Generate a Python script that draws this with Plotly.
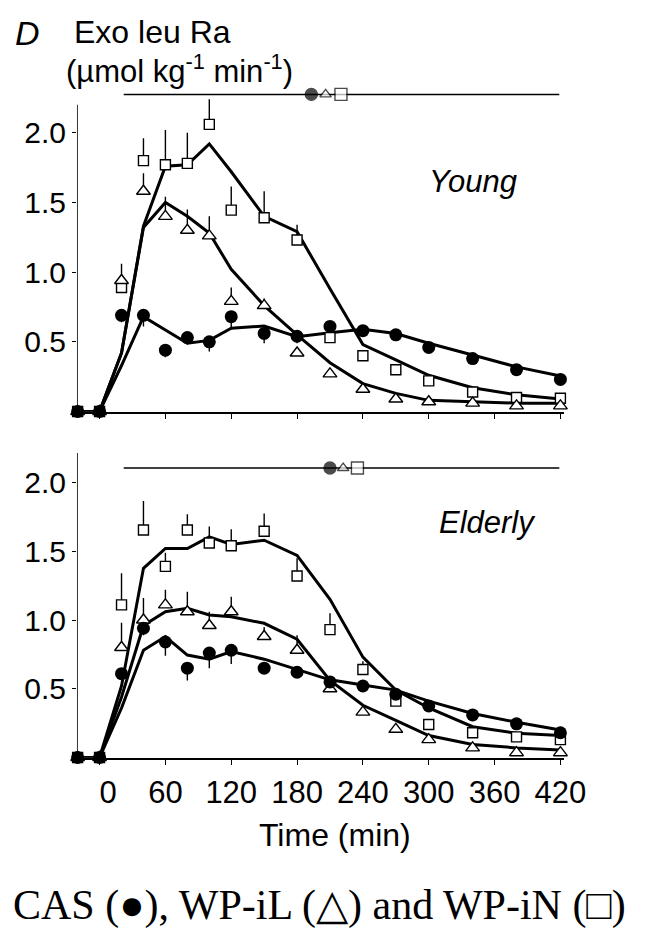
import plotly.graph_objects as go

W, H = 661, 933

# Sampling times (min)
times = [-20, 0, 20, 40, 60, 80, 100, 120, 150, 180, 210, 240, 270, 300, 340, 380, 420]
tick_times = [0, 60, 120, 180, 240, 300, 360, 420]
tick_text = ["\u00a0\u00a00", "60", "120", "180", "240", "300", "360", "420"]
y_ticks = [0.5, 1.0, 1.5, 2.0]
y_tick_text = ["0.5", "1.0", "1.5", "2.0"]

# Young: observed means
young_cas = [0, 0, 0.69, 0.69, 0.44, 0.53, 0.50, 0.68, 0.56, 0.54, 0.61, 0.58, 0.55, 0.46, 0.38, 0.30, 0.23]
young_wpil = [0, 0, 0.94, 1.58, 1.40, 1.30, 1.26, 0.79, 0.76, 0.42, 0.27, 0.16, 0.09, 0.07, 0.06, 0.04, 0.04]
young_wpin = [0, 0, 0.89, 1.80, 1.77, 1.78, 2.06, 1.445, 1.39, 1.23, 0.53, 0.40, 0.30, 0.22, 0.14, 0.10, 0.095]
# Young: SEM (CAS drawn downward, whey drawn upward)
young_cas_err = [0, 0, 0.05, 0.08, 0.05, 0.05, 0.07, 0.09, 0.07, 0.05, 0.03, 0, 0, 0, 0, 0, 0]
young_wpil_err = [0, 0, 0.12, 0.13, 0.14, 0.15, 0.14, 0.10, 0.05, 0.04, 0, 0, 0, 0, 0, 0, 0]
young_wpin_err = [0, 0, 0.05, 0.16, 0.25, 0.22, 0.18, 0.17, 0.19, 0.11, 0.03, 0, 0, 0, 0, 0, 0]
# Young: model fits
young_cas_fit = [0, 0, 0.33, 0.68, 0.585, 0.49, 0.51, 0.597, 0.613, 0.537, 0.565, 0.59, 0.56, 0.49, 0.405, 0.32, 0.255]
young_wpil_fit = [0, 0, 0.42, 1.32, 1.50, 1.40, 1.28, 1.02, 0.76, 0.55, 0.35, 0.20, 0.13, 0.08, 0.07, 0.06, 0.06]
young_wpin_fit = [0, 0, 0.42, 1.33, 1.76, 1.77, 1.92, 1.72, 1.40, 1.29, 0.88, 0.48, 0.37, 0.26, 0.17, 0.12, 0.09]

# Elderly: observed means
elder_cas = [0, 0, 0.61, 0.94, 0.84, 0.65, 0.76, 0.78, 0.65, 0.62, 0.55, 0.52, 0.46, 0.375, 0.31, 0.245, 0.18]
elder_wpil = [0, 0, 0.80, 1.00, 1.11, 1.06, 0.96, 1.06, 0.88, 0.78, 0.50, 0.33, 0.205, 0.13, 0.07, 0.035, 0.035]
elder_wpin = [0, 0, 1.11, 1.655, 1.39, 1.655, 1.56, 1.54, 1.645, 1.32, 0.93, 0.64, 0.41, 0.24, 0.18, 0.15, 0.13]
# Elderly: SEM
elder_cas_err = [0, 0, 0.05, 0.05, 0.10, 0.09, 0.11, 0.10, 0.04, 0.04, 0.03, 0, 0, 0, 0, 0, 0]
elder_wpil_err = [0, 0, 0.18, 0.16, 0.11, 0.145, 0.10, 0.11, 0.07, 0.11, 0.04, 0, 0, 0, 0, 0, 0]
elder_wpin_err = [0, 0, 0.23, 0.21, 0.10, 0.115, 0.12, 0.12, 0.13, 0.13, 0.12, 0.06, 0, 0, 0, 0, 0]
# Elderly: model fits
elder_cas_fit = [0, 0, 0.36, 0.78, 0.88, 0.745, 0.715, 0.77, 0.715, 0.64, 0.565, 0.527, 0.49, 0.41, 0.32, 0.256, 0.20]
elder_wpil_fit = [0, 0, 0.44, 0.96, 1.06, 1.085, 1.036, 1.024, 0.976, 0.86, 0.56, 0.38, 0.27, 0.16, 0.095, 0.07, 0.055]
elder_wpin_fit = [0, 0, 0.52, 1.376, 1.52, 1.52, 1.605, 1.55, 1.58, 1.47, 1.15, 0.73, 0.49, 0.36, 0.224, 0.176, 0.16]

# Horizontal bar above each panel with the time-to-peak symbols
bar_span = [22, 419]
young_bar_level = 2.275
elder_bar_level = 2.105
young_peak_times = [193, 206, 220]
elder_peak_times = [210, 222, 235]

X_RANGE = [-20.6, 423]
Y_RANGE = [0, 2.3]
FIT_W = 3
SANS = "Liberation Sans, Arial, sans-serif"

fig = go.Figure()


def add_panel(xa, ya, cas, wpil, wpin, cas_e, wpil_e, wpin_e, cas_f, wpil_f, wpin_f,
              level, peaks):
    # model curves
    for fit in (cas_f, wpil_f, wpin_f):
        fig.add_trace(go.Scatter(x=times, y=fit, xaxis=xa, yaxis=ya, mode="lines",
                                 line=dict(color="black", width=FIT_W), showlegend=False,
                                 hoverinfo="skip"))
    # observed values with SEM
    fig.add_trace(go.Scatter(
        x=times, y=wpin, xaxis=xa, yaxis=ya, mode="markers", cliponaxis=False,
        marker=dict(symbol="square", size=10, color="white", line=dict(color="black", width=1.4)),
        error_y=dict(type="data", array=wpin_e, arrayminus=[0] * len(times), symmetric=False,
                     width=0, thickness=1.4, color="black"),
        showlegend=False))
    fig.add_trace(go.Scatter(
        x=times, y=wpil, xaxis=xa, yaxis=ya, mode="markers", cliponaxis=False,
        marker=dict(symbol="triangle-up", size=12, color="white", line=dict(color="black", width=1.4)),
        error_y=dict(type="data", array=wpil_e, arrayminus=[0] * len(times), symmetric=False,
                     width=0, thickness=1.4, color="black"),
        showlegend=False))
    fig.add_trace(go.Scatter(
        x=times, y=cas, xaxis=xa, yaxis=ya, mode="markers", cliponaxis=False,
        marker=dict(symbol="circle", size=13, color="black"),
        error_y=dict(type="data", array=[0] * len(times), arrayminus=cas_e, symmetric=False,
                     width=0, thickness=1.4, color="black"),
        showlegend=False))
    # bar with time-to-peak symbols
    fig.add_trace(go.Scatter(x=bar_span, y=[level, level], xaxis=xa, yaxis=ya, mode="lines",
                             line=dict(color="black", width=1.5), showlegend=False))
    fig.add_trace(go.Scatter(
        x=peaks, y=[level] * 3, xaxis=xa, yaxis=ya, mode="markers", cliponaxis=False,
        marker=dict(symbol=["circle", "triangle-up", "square"], size=[12, 10, 12],
                    color=["black", "white", "white"], line=dict(color="black", width=1.4)),
        showlegend=False))


add_panel("x", "y", young_cas, young_wpil, young_wpin, young_cas_err, young_wpil_err,
          young_wpin_err, young_cas_fit, young_wpil_fit, young_wpin_fit,
          young_bar_level, young_peak_times)
add_panel("x2", "y2", elder_cas, elder_wpil, elder_wpin, elder_cas_err, elder_wpil_err,
          elder_wpin_err, elder_cas_fit, elder_wpil_fit, elder_wpin_fit,
          elder_bar_level, elder_peak_times)

PX_PER_MIN = 68.1 / 60
x_left = 103 + X_RANGE[0] * PX_PER_MIN
x_right = 103 + X_RANGE[1] * PX_PER_MIN
x_dom = [x_left / W, x_right / W]
top_dom = [(H - 411.5) / H, (H - 90.9) / H]
bot_dom = [(H - 757.5) / H, (H - 441.25) / H]

xcommon = dict(range=X_RANGE, domain=x_dom, showgrid=False, zeroline=False, showline=True,
               linecolor="black", linewidth=1.6, ticks="outside", ticklen=6, tickwidth=1.4,
               tickcolor="black", tickvals=tick_times, ticktext=tick_text,
               tickfont=dict(family=SANS, size=31, color="black"))
ycommon = dict(range=Y_RANGE, showgrid=False, zeroline=False, showline=False,
               ticks="outside", ticklen=4, tickwidth=1.4, tickcolor="black",
               tickvals=y_ticks, ticktext=y_tick_text,
               tickfont=dict(family=SANS, size=30, color="black"))

fig.update_layout(
    width=W, height=H, margin=dict(l=0, r=0, t=0, b=0),
    paper_bgcolor="white", plot_bgcolor="white", showlegend=False,
    xaxis=dict(xcommon, anchor="y", showticklabels=False),
    yaxis=dict(ycommon, domain=top_dom, anchor="x"),
    xaxis2=dict(xcommon, anchor="y2"),
    yaxis2=dict(ycommon, domain=bot_dom, anchor="x2"),
)

# vertical axis lines (stop below the bar)
for xr, yr, top in (("x", "y", 2.2), ("x2", "y2", 2.215)):
    fig.add_shape(type="line", xref=xr, yref=yr, x0=X_RANGE[0], x1=X_RANGE[0], y0=0, y1=top,
                  line=dict(color="black", width=1.6))

annotations = [
    dict(text="<i>D</i>", x=13 / W, y=1 - 33 / H, xanchor="left", yanchor="middle",
         font=dict(family=SANS, size=34, color="black")),
    dict(text="Exo leu Ra", x=74 / W, y=1 - 32 / H, xanchor="left", yanchor="middle",
         font=dict(family=SANS, size=32, color="black")),
    dict(text="(µmol kg<sup>-1</sup> min<sup>-1</sup>)", x=66 / W, y=1 - 69 / H,
         xanchor="left", yanchor="middle", font=dict(family=SANS, size=31, color="black")),
    dict(text="<i>Young</i>", x=489 / W, y=1 - 181 / H, xanchor="center", yanchor="middle",
         font=dict(family=SANS, size=31, color="black")),
    dict(text="<i>Elderly</i>", x=504 / W, y=1 - 522 / H, xanchor="center", yanchor="middle",
         font=dict(family=SANS, size=31, color="black")),
    dict(text="Time (min)", x=347 / W, y=1 - 835 / H, xanchor="center", yanchor="middle",
         font=dict(family=SANS, size=32, color="black")),
    dict(text="CAS (\u25cf), WP-iL (\u25b3) and WP-iN (\u25a1)", x=330 / W, y=1 - 905 / H,
         xanchor="center", yanchor="middle",
         font=dict(family="Liberation Serif, Times New Roman, serif", size=42, color="black")),
]
for a in annotations:
    fig.add_annotation(dict(a, xref="paper", yref="paper", showarrow=False))

fig.write_html("out.html")
